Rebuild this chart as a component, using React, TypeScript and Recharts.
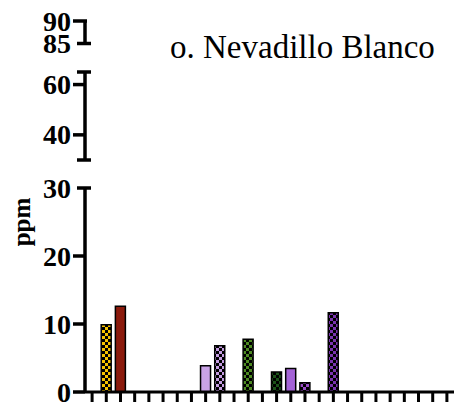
import { BarChart, Bar, XAxis, YAxis, Cell } from 'recharts';

const categories = [
  'c1', 'c2', 'c3', 'c4', 'c5', 'c6', 'c7', 'c8', 'c9', 'c10', 'c11', 'c12', 'c13',
  'c14', 'c15', 'c16', 'c17', 'c18', 'c19', 'c20', 'c21', 'c22', 'c23', 'c24', 'c25', 'c26',
];
const ppmValues: (number | null)[] = [
  null, 9.9, 12.6, null, null, null, null, null, 3.85, 6.8, null, 7.75, null,
  2.95, 3.45, 1.35, null, 11.65, null, null, null, null, null, null, null, null,
];
const barFills = [
  'none', 'url(#chkYellow)', '#8b1a0c', 'none', 'none', 'none', 'none', 'none',
  '#c9a2e6', 'url(#chkLilac)', 'none', 'url(#chkGreen)', 'none', 'url(#chkDarkGreen)',
  '#a463d6', 'url(#chkPurple)', 'none', 'url(#chkDeepPurple)',
  'none', 'none', 'none', 'none', 'none', 'none', 'none', 'none',
];
const lowTicks = [0, 10, 20, 30];
const midTicks = [30, 40, 60, 65];
const highTicks = [85, 90];

const checkers = [
  { id: 'chkYellow', color: '#f7c400' },
  { id: 'chkLilac', color: '#c59de2' },
  { id: 'chkGreen', color: '#4e8b22' },
  { id: 'chkDarkGreen', color: '#1b5218' },
  { id: 'chkPurple', color: '#9a4cc8' },
  { id: 'chkDeepPurple', color: '#7a34b0' },
];

const data = categories.map((c, i) => ({ cat: c, ppm: ppmValues[i] }));

const AXIS_X = 85;
const FONT = '"Liberation Serif", "Times New Roman", serif';

// draws ticks by hand so the broken-axis caps can stick out on both sides
function makeTick(caps: number[], capsLeftOnly: number[], noLabel: number[]) {
  return (props: any) => {
    const { y, payload } = props;
    const v = payload.value;
    const isCap = caps.includes(v);
    const x1 = AXIS_X - (isCap ? 8 : 12);
    const x2 = isCap ? AXIS_X + 6 : capsLeftOnly.includes(v) ? AXIS_X + 2 : AXIS_X;
    return (
      <g>
        <line x1={x1} x2={x2} y1={y} y2={y} stroke="#000" strokeWidth={3.5} />
        {!noLabel.includes(v) && (
          <text
            x={AXIS_X - 14}
            y={y}
            textAnchor="end"
            dominantBaseline="central"
            fontFamily={FONT}
            fontWeight="bold"
            fontSize={28}
            fill="#000"
          >
            {v}
          </text>
        )}
      </g>
    );
  };
}

const XTick = (props: any) => {
  const { x, y } = props;
  return <line x1={x} x2={x} y1={y} y2={y + 10} stroke="#000" strokeWidth={3} />;
};

function BreakSegment({ top, height, domain, ticks, caps, leftOnly, noLabel }: any) {
  return (
    <div style={{ position: 'absolute', left: 0, top: 0 }}>
      <BarChart
        width={454}
        height={top + height + 20}
        data={data}
        margin={{ top, right: 0, bottom: 20, left: 0 }}
      >
        <XAxis dataKey="cat" hide />
        <YAxis
          type="number"
          width={AXIS_X}
          domain={domain}
          ticks={ticks}
          allowDataOverflow
          interval={0}
          axisLine={{ stroke: '#000', strokeWidth: 3.5 }}
          tickLine={false}
          tick={makeTick(caps, leftOnly, noLabel)}
        />
      </BarChart>
    </div>
  );
}

export default function App() {
  return (
    <div style={{ position: 'absolute', left: 0, top: 0, width: 454, height: 406, background: '#fff' }}>
      <div style={{ position: 'absolute', left: 0, top: 0 }}>
        <BarChart
          width={454}
          height={406}
          data={data}
          margin={{ top: 188, right: 0, bottom: 0, left: 0 }}
          barCategoryGap={0}
        >
          <defs>
            {checkers.map((c) => (
              <pattern key={c.id} id={c.id} width={6} height={6} patternUnits="userSpaceOnUse">
                <rect width={6} height={6} fill={c.color} />
                <rect x={3} y={0} width={3} height={3} fill="#000" />
                <rect x={0} y={3} width={3} height={3} fill="#000" />
              </pattern>
            ))}
          </defs>
          <XAxis
            dataKey="cat"
            height={14}
            interval={0}
            tickSize={0}
            tickMargin={0}
            tickLine={false}
            tick={<XTick />}
            axisLine={{ stroke: '#000', strokeWidth: 3 }}
          />
          <YAxis
            type="number"
            width={AXIS_X}
            domain={[0, 30]}
            ticks={lowTicks}
            interval={0}
            axisLine={{ stroke: '#000', strokeWidth: 3.5 }}
            tickLine={false}
            tick={makeTick([30], [], [])}
          />
          <Bar dataKey="ppm" barSize={10} stroke="#000" strokeWidth={1.5} isAnimationActive={false}>
            {data.map((d, i) => (
              <Cell key={d.cat} fill={barFills[i]} />
            ))}
          </Bar>
        </BarChart>
      </div>
      <BreakSegment top={72} height={88} domain={[30, 65]} ticks={midTicks} caps={[30, 65]} leftOnly={[]} noLabel={[30, 65]} />
      <BreakSegment top={21} height={22.5} domain={[85, 90]} ticks={highTicks} caps={[85]} leftOnly={[90]} noLabel={[]} />
      <div
        style={{
          position: 'absolute',
          left: -3,
          top: 222,
          transform: 'translate(0, -50%) rotate(-90deg)',
          transformOrigin: 'center',
          fontFamily: FONT,
          fontWeight: 'bold',
          fontSize: 25,
          lineHeight: 1,
        }}
      >
        ppm
      </div>
      <div
        style={{
          position: 'absolute',
          left: 170,
          top: 31,
          fontFamily: FONT,
          fontSize: 33,
          lineHeight: 1,
          whiteSpace: 'nowrap',
        }}
      >
        o. Nevadillo Blanco
      </div>
    </div>
  );
}
